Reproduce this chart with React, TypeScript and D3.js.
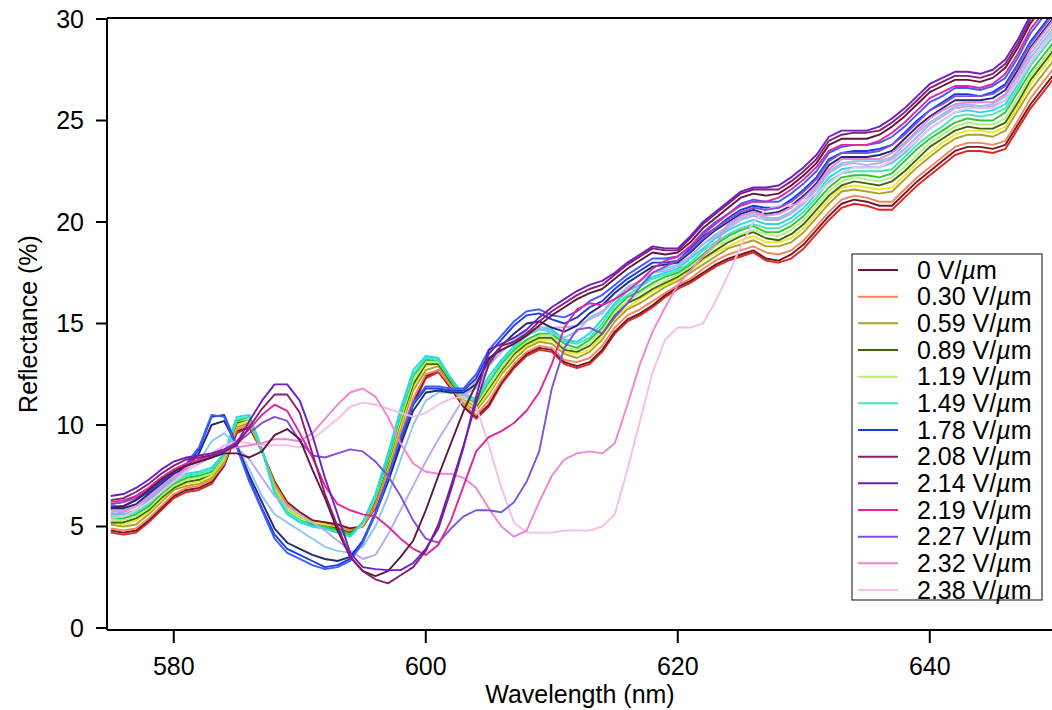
import React from "react";
import * as d3 from "d3";

// 1 nm sampling grid of the spectra
const wavelengths = d3.range(575, 651);

// reflectance (%) per field step (575 … 650 nm)
const red = [
  4.7, 4.6, 4.7, 5.2, 5.8, 6.4, 6.7, 6.8, 7.1,
  8.0, 9.6, 9.9, 8.7, 7.2, 6.2, 5.7, 5.3, 5.2, 5.1, 4.9, 5.0, 5.9, 7.3, 9.2, 11.0, 12.3, 12.6, 11.8, 10.9, 10.3,
  10.9, 12.0, 12.8, 13.4, 13.7, 13.6, 13.0, 12.8, 13.0, 13.6, 14.5, 15.1, 15.4, 15.8, 16.3, 16.7, 17.0, 17.4, 17.8, 18.1, 18.3, 18.5, 18.1, 18.0, 18.2, 18.7, 19.4, 20.1, 20.7, 20.9, 20.8, 20.6, 20.6, 21.2, 21.8, 22.3, 22.8, 23.3, 23.5, 23.5, 23.4, 23.6, 24.6, 25.6, 26.4, 27.2,
];
const v0 = [
  4.8, 4.7, 4.8, 5.3, 5.9, 6.5, 6.8, 6.9, 7.2,
  8.0, 9.7, 9.9, 8.7, 7.2, 6.2, 5.7, 5.3, 5.2, 5.1, 4.9, 5.0, 6.0, 7.4, 9.3, 11.1, 12.4, 12.7, 11.8, 10.9, 10.4,
  11.0, 12.1, 12.9, 13.5, 13.8, 13.7, 13.1, 12.9, 13.1, 13.7, 14.6, 15.2, 15.5, 15.9, 16.4, 16.8, 17.1, 17.5, 17.9, 18.2, 18.4, 18.6, 18.2, 18.1, 18.4, 18.9, 19.6, 20.3, 20.9, 21.1, 21.0, 20.8, 20.8, 21.4, 22.0, 22.5, 23.0, 23.5, 23.7, 23.7, 23.6, 23.8, 24.8, 25.8, 26.6, 27.4,
];
const v030 = [
  4.9, 4.8, 4.9, 5.4, 6.0, 6.6, 6.9, 7.0, 7.3,
  8.1, 9.8, 10.0, 8.7, 7.1, 6.1, 5.6, 5.2, 5.1, 5.0, 4.8, 5.0, 6.0, 7.6, 9.5, 11.3, 12.5, 12.7, 11.9, 11.0, 10.5,
  11.2, 12.2, 13.0, 13.6, 13.9, 13.8, 13.2, 13.1, 13.3, 13.9, 14.8, 15.4, 15.7, 16.1, 16.5, 16.9, 17.2, 17.7, 18.1, 18.4, 18.6, 18.8, 18.5, 18.4, 18.6, 19.1, 19.8, 20.5, 21.1, 21.3, 21.2, 21.0, 21.0, 21.6, 22.2, 22.7, 23.2, 23.7, 23.9, 23.9, 23.8, 24.0, 25.0, 26.1, 26.9, 27.7,
];
const v059 = [
  5.1, 5.0, 5.1, 5.6, 6.2, 6.8, 7.0, 7.1, 7.4,
  8.2, 9.9, 10.1, 8.7, 7.0, 6.0, 5.5, 5.2, 5.1, 4.9, 4.7, 5.1, 6.2, 7.8, 9.8, 11.7, 12.7, 12.9, 12.0, 11.1, 10.7,
  11.5, 12.5, 13.2, 13.8, 14.1, 14.0, 13.5, 13.3, 13.6, 14.2, 15.1, 15.7, 16.0, 16.4, 16.8, 17.1, 17.5, 17.9, 18.3, 18.7, 18.9, 19.1, 18.8, 18.8, 19.0, 19.5, 20.2, 20.9, 21.5, 21.6, 21.5, 21.4, 21.5, 22.1, 22.7, 23.2, 23.7, 24.1, 24.3, 24.3, 24.2, 24.5, 25.5, 26.5, 27.3, 28.1,
];
const yellow = [
  5.2, 5.1, 5.3, 5.7, 6.3, 6.9, 7.1, 7.2, 7.5,
  8.3, 10.0, 10.2, 8.8, 6.9, 5.9, 5.5, 5.2, 5.1, 4.9, 4.7, 5.1, 6.3, 8.0, 10.0, 11.9, 12.9, 13.0, 12.1, 11.2, 10.8,
  11.6, 12.6, 13.4, 13.9, 14.2, 14.2, 13.6, 13.5, 13.7, 14.4, 15.3, 15.8, 16.2, 16.6, 16.9, 17.2, 17.6, 18.1, 18.5, 18.8, 19.1, 19.3, 19.0, 19.0, 19.2, 19.7, 20.4, 21.1, 21.7, 21.8, 21.7, 21.6, 21.7, 22.3, 22.9, 23.4, 23.9, 24.3, 24.5, 24.5, 24.4, 24.7, 25.7, 26.8, 27.6, 28.4,
];
const v089 = [
  5.2, 5.2, 5.4, 5.8, 6.4, 6.9, 7.2, 7.3, 7.6,
  8.4, 10.1, 10.3, 8.8, 6.8, 5.8, 5.4, 5.1, 5.0, 4.9, 4.7, 5.1, 6.3, 8.1, 10.2, 12.0, 13.0, 13.0, 12.1, 11.3, 10.9,
  11.8, 12.7, 13.5, 14.0, 14.3, 14.3, 13.7, 13.6, 13.9, 14.5, 15.4, 16.0, 16.3, 16.7, 17.0, 17.3, 17.7, 18.2, 18.6, 19.0, 19.3, 19.5, 19.2, 19.1, 19.4, 19.9, 20.6, 21.3, 21.8, 22.0, 21.9, 21.8, 22.0, 22.5, 23.1, 23.7, 24.1, 24.5, 24.7, 24.6, 24.6, 24.9, 25.9, 27.0, 27.8, 28.6,
];
const v119 = [
  5.3, 5.3, 5.5, 5.9, 6.5, 7.0, 7.3, 7.4, 7.6,
  8.4, 10.2, 10.3, 8.8, 6.8, 5.8, 5.4, 5.1, 5.0, 4.8, 4.6, 5.1, 6.4, 8.2, 10.3, 12.2, 13.1, 13.1, 12.2, 11.3, 11.0,
  11.9, 12.8, 13.6, 14.1, 14.4, 14.4, 13.8, 13.7, 14.0, 14.7, 15.6, 16.1, 16.5, 16.9, 17.1, 17.4, 17.8, 18.3, 18.8, 19.1, 19.4, 19.6, 19.4, 19.3, 19.6, 20.1, 20.8, 21.5, 22.0, 22.2, 22.1, 22.0, 22.2, 22.7, 23.3, 23.9, 24.3, 24.7, 24.9, 24.8, 24.8, 25.1, 26.1, 27.2, 28.0, 28.8,
];
const green = [
  5.4, 5.4, 5.6, 6.0, 6.6, 7.1, 7.4, 7.5, 7.7,
  8.5, 10.2, 10.4, 8.8, 6.7, 5.7, 5.3, 5.1, 5.0, 4.8, 4.6, 5.2, 6.5, 8.3, 10.5, 12.4, 13.2, 13.2, 12.2, 11.4, 11.1,
  12.1, 13.0, 13.7, 14.2, 14.5, 14.5, 14.0, 13.8, 14.2, 14.8, 15.7, 16.3, 16.6, 17.0, 17.3, 17.5, 17.9, 18.4, 18.9, 19.3, 19.6, 19.8, 19.5, 19.5, 19.8, 20.3, 21.0, 21.7, 22.2, 22.3, 22.3, 22.2, 22.4, 23.0, 23.6, 24.1, 24.5, 24.9, 25.1, 25.0, 25.0, 25.4, 26.4, 27.4, 28.2, 29.0,
];
const v149 = [
  5.5, 5.5, 5.7, 6.1, 6.7, 7.2, 7.5, 7.6, 7.8,
  8.5, 10.3, 10.4, 8.8, 6.7, 5.7, 5.3, 5.0, 4.9, 4.7, 4.5, 5.2, 6.5, 8.5, 10.6, 12.5, 13.3, 13.2, 12.3, 11.4, 11.2,
  12.2, 13.1, 13.8, 14.4, 14.7, 14.6, 14.1, 14.0, 14.3, 15.0, 15.9, 16.4, 16.8, 17.2, 17.4, 17.6, 18.0, 18.6, 19.0, 19.4, 19.7, 19.9, 19.7, 19.7, 20.0, 20.5, 21.2, 22.0, 22.4, 22.5, 22.5, 22.5, 22.6, 23.2, 23.8, 24.3, 24.7, 25.2, 25.3, 25.2, 25.3, 25.6, 26.6, 27.7, 28.5, 29.3,
];
const cyan = [
  5.6, 5.6, 5.8, 6.3, 6.8, 7.3, 7.6, 7.7, 7.9,
  8.6, 10.4, 10.5, 8.8, 6.6, 5.6, 5.2, 5.0, 4.9, 4.7, 4.5, 5.2, 6.6, 8.6, 10.8, 12.7, 13.4, 13.3, 12.3, 11.5, 11.3,
  12.4, 13.2, 13.9, 14.5, 14.8, 14.7, 14.2, 14.1, 14.5, 15.2, 16.0, 16.6, 16.9, 17.3, 17.5, 17.7, 18.2, 18.7, 19.2, 19.6, 19.9, 20.1, 19.9, 19.9, 20.2, 20.7, 21.4, 22.2, 22.6, 22.7, 22.7, 22.7, 22.9, 23.4, 24.0, 24.6, 25.0, 25.4, 25.5, 25.4, 25.5, 25.8, 26.8, 27.9, 28.7, 29.5,
];
const lightBlue = [
  5.7, 5.8, 6.0, 6.4, 7.0, 7.4, 7.7, 8.2, 9.2,
  9.6, 9.0, 7.8, 6.5, 5.6, 5.2, 4.8, 4.4, 4.0, 3.8, 3.7, 4.0, 5.0, 6.5, 8.3, 10.0, 11.2, 11.6, 11.6, 11.5, 11.8,
  12.9, 13.6, 14.2, 14.6, 14.8, 14.5, 14.3, 14.6, 15.3, 15.6, 16.2, 16.8, 17.1, 17.5, 17.7, 17.9, 18.3, 18.9, 19.4, 19.8, 20.2, 20.4, 20.2, 20.2, 20.5, 21.0, 21.7, 22.5, 22.9, 23.0, 23.0, 23.0, 23.2, 23.8, 24.4, 24.9, 25.3, 25.7, 25.8, 25.7, 25.8, 26.2, 27.2, 28.3, 29.1, 29.9,
];
const lavender = [
  5.8, 5.8, 6.0, 6.5, 7.0, 7.5, 7.8, 8.1, 8.4,
  9.0, 8.9, 8.3, 7.4, 6.5, 6.0, 5.6, 5.2, 4.8, 4.3, 3.8, 3.4, 3.6, 4.6, 5.8, 7.0, 8.2, 9.3, 10.3, 11.3, 12.2,
  13.0, 13.6, 14.1, 14.5, 14.8, 14.8, 14.8, 14.9, 15.2, 15.5, 16.2, 16.7, 17.1, 17.5, 17.6, 17.8, 18.3, 18.9, 19.3, 19.7, 20.1, 20.3, 20.1, 20.1, 20.4, 20.9, 21.6, 22.4, 22.8, 22.9, 22.8, 22.9, 23.1, 23.6, 24.2, 24.8, 25.2, 25.6, 25.7, 25.6, 25.7, 26.0, 27.0, 28.1, 28.9, 29.7,
];
const navy = [
  5.9, 5.9, 6.1, 6.6, 7.1, 7.6, 7.9, 8.6, 10.0,
  10.2, 9.0, 7.5, 6.2, 4.9, 4.2, 3.9, 3.6, 3.4, 3.3, 3.5, 4.3, 5.6, 7.2, 9.0, 10.7, 11.6, 11.7, 11.6, 11.6, 12.0,
  13.2, 13.9, 14.5, 15.0, 15.1, 14.8, 14.6, 14.9, 15.5, 15.9, 16.5, 17.0, 17.4, 17.8, 17.9, 18.0, 18.5, 19.1, 19.6, 20.0, 20.4, 20.6, 20.4, 20.5, 20.8, 21.3, 21.9, 22.8, 23.2, 23.2, 23.2, 23.3, 23.5, 24.1, 24.7, 25.2, 25.6, 26.0, 26.0, 26.0, 26.1, 26.5, 27.5, 28.6, 29.4, 30.2,
];
const v178 = [
  6.0, 6.0, 6.3, 6.7, 7.2, 7.7, 8.0, 8.8, 10.4,
  10.5, 9.0, 7.3, 5.9, 4.6, 3.9, 3.6, 3.3, 3.0, 3.1, 3.4, 4.3, 5.7, 7.4, 9.3, 11.0, 11.8, 11.8, 11.7, 11.7, 12.3,
  13.5, 14.2, 14.9, 15.4, 15.5, 15.2, 15.0, 15.3, 15.8, 16.1, 16.7, 17.2, 17.6, 18.0, 18.0, 18.1, 18.7, 19.3, 19.7, 20.2, 20.6, 20.8, 20.7, 20.7, 21.1, 21.6, 22.2, 23.1, 23.4, 23.5, 23.5, 23.6, 23.8, 24.4, 25.0, 25.5, 25.9, 26.3, 26.3, 26.2, 26.4, 26.8, 27.8, 28.9, 29.7, 30.5,
];
const royal = [
  6.1, 6.2, 6.5, 6.9, 7.4, 7.8, 8.1, 8.9, 10.5,
  10.4, 8.9, 7.2, 5.8, 4.4, 3.7, 3.4, 3.1, 2.9, 3.0, 3.3, 4.2, 5.6, 7.4, 9.4, 11.1, 11.9, 11.9, 11.8, 11.8, 12.5,
  13.7, 14.4, 15.1, 15.6, 15.7, 15.4, 15.3, 15.6, 16.1, 16.4, 16.9, 17.4, 17.8, 18.2, 18.2, 18.3, 18.8, 19.5, 20.0, 20.4, 20.9, 21.1, 21.0, 21.0, 21.4, 21.9, 22.5, 23.4, 23.7, 23.8, 23.8, 23.9, 24.2, 24.7, 25.3, 25.9, 26.2, 26.6, 26.6, 26.5, 26.7, 27.1, 28.1, 29.3, 30.1, 30.9,
];
const darkMaroon = [
  5.9, 6.0, 6.3, 6.8, 7.3, 7.7, 8.0, 8.2, 8.4,
  8.6, 8.6, 8.4, 8.7, 9.5, 9.8, 9.3, 7.8, 6.4, 4.8, 3.5, 2.8, 2.55, 2.8, 3.5, 4.3, 5.8, 7.5, 9.1, 10.7, 12.0,
  13.3, 13.7, 14.0, 14.4, 14.9, 15.4, 15.8, 16.2, 16.5, 16.7, 17.2, 17.7, 18.1, 18.5, 18.4, 18.5, 19.0, 19.7, 20.2, 20.7, 21.2, 21.4, 21.3, 21.4, 21.8, 22.3, 22.9, 23.8, 24.1, 24.1, 24.1, 24.3, 24.7, 25.2, 25.8, 26.4, 26.7, 27.0, 27.0, 26.9, 27.1, 27.6, 28.6, 29.8, 30.6, 31.4,
];
const v208 = [
  6.3, 6.4, 6.7, 7.1, 7.6, 8.0, 8.3, 8.4, 8.5,
  8.7, 9.0, 9.9, 10.8, 11.5, 11.5, 10.6, 8.6, 6.6, 5.0, 3.5, 2.8, 2.4, 2.2, 2.6, 3.0, 3.8, 5.1, 7.0, 9.0, 11.1,
  13.0, 13.9, 14.1, 14.5, 15.1, 15.6, 16.0, 16.4, 16.7, 16.9, 17.4, 17.9, 18.3, 18.7, 18.6, 18.6, 19.2, 19.9, 20.4, 20.9, 21.4, 21.6, 21.6, 21.6, 22.0, 22.5, 23.1, 24.0, 24.3, 24.4, 24.4, 24.5, 24.9, 25.4, 26.0, 26.6, 26.9, 27.2, 27.2, 27.1, 27.3, 27.8, 28.8, 30.0, 30.8, 31.6,
];
const v214 = [
  6.5, 6.6, 6.9, 7.3, 7.8, 8.2, 8.4, 8.5, 8.6,
  8.8, 9.1, 10.2, 11.2, 12.0, 12.0, 11.2, 9.5, 7.4, 5.6, 3.7, 3.0, 2.9, 2.85, 2.85, 3.2, 3.9, 4.9, 6.8, 8.9, 11.4,
  13.7, 14.0, 14.3, 14.7, 15.3, 15.8, 16.2, 16.6, 16.9, 17.1, 17.5, 18.0, 18.4, 18.8, 18.7, 18.7, 19.3, 20.0, 20.5, 21.0, 21.5, 21.7, 21.7, 21.8, 22.2, 22.7, 23.3, 24.2, 24.5, 24.5, 24.5, 24.7, 25.1, 25.6, 26.2, 26.8, 27.1, 27.4, 27.4, 27.3, 27.5, 28.0, 29.0, 30.2, 31.0, 31.8,
];
const v219 = [
  6.2, 6.3, 6.5, 6.9, 7.4, 7.8, 8.1, 8.3, 8.5,
  8.7, 9.2, 9.8, 10.5, 11.0, 10.7, 9.6, 8.4, 7.0, 6.1, 5.8, 5.6, 5.5, 5.0, 4.4, 3.9, 3.6, 4.1, 5.3, 7.0, 8.7,
  9.4, 9.7, 10.1, 10.7, 11.6, 13.0, 14.8, 15.7, 16.0, 15.9, 16.2, 16.6, 17.1, 17.7, 18.1, 18.3, 18.8, 19.4, 19.9, 20.4, 20.8, 21.0, 21.0, 21.2, 21.6, 22.1, 22.7, 23.5, 23.8, 23.8, 23.8, 24.0, 24.4, 24.9, 25.5, 26.1, 26.4, 26.7, 26.7, 26.6, 26.8, 27.3, 28.3, 29.5, 30.3, 31.1,
];
const v227 = [
  6.1, 6.2, 6.4, 6.8, 7.3, 7.7, 8.0, 8.2, 8.4,
  8.7, 9.1, 9.6, 10.1, 10.4, 10.2, 9.2, 8.5, 8.4, 8.6, 8.8, 8.7, 8.2, 7.5, 6.5, 5.3, 4.4, 4.2, 4.9, 5.5, 5.8,
  5.8, 5.7, 6.2, 7.2, 8.7, 11.8, 13.8, 14.7, 14.8, 14.5, 15.3, 16.0, 16.8, 17.5, 17.8, 18.1, 18.6, 19.2, 19.7, 20.1, 20.5, 20.7, 20.6, 20.7, 21.0, 21.5, 22.1, 23.0, 23.4, 23.4, 23.4, 23.5, 23.8, 24.3, 24.9, 25.5, 25.8, 26.2, 26.2, 26.2, 26.3, 26.7, 27.7, 28.8, 29.6, 30.4,
];
const v232 = [
  5.6, 5.7, 6.0, 6.4, 6.9, 7.4, 7.9, 8.3, 8.6,
  8.8, 8.9, 9.0, 9.1, 9.3, 9.3, 9.2, 9.6, 10.3, 11.0, 11.6, 11.8, 11.4, 10.4, 9.1, 8.1, 7.7, 7.6, 7.6, 7.4, 6.9,
  5.9, 5.0, 4.5, 4.8, 6.2, 7.5, 8.3, 8.6, 8.7, 8.6, 9.1, 11.0, 13.0, 14.6, 15.8, 16.9, 17.6, 18.3, 18.9, 19.9, 20.3, 20.5, 20.3, 20.4, 20.7, 21.2, 21.8, 22.6, 23.1, 23.1, 23.1, 23.1, 23.4, 23.9, 24.5, 25.1, 25.5, 25.8, 25.9, 25.9, 25.9, 26.3, 27.3, 28.5, 29.3, 30.1,
];
const v238 = [
  5.4, 5.5, 5.8, 6.2, 6.7, 7.2, 7.7, 8.2, 8.6,
  9.0, 9.2, 9.1, 9.0, 9.0, 9.0, 8.9, 9.3, 9.8, 10.3, 10.9, 11.1, 11.0, 10.8, 10.6, 10.4, 10.6, 11.0, 11.3, 11.4, 10.9,
  9.0, 6.9, 5.2, 4.7, 4.7, 4.7, 4.8, 4.8, 4.8, 5.0, 5.6, 7.8, 10.2, 12.6, 14.2, 14.8, 14.8, 15.0, 16.1, 17.4, 18.8, 20.0, 20.6, 20.8, 20.8, 21.0, 21.4, 21.9, 22.4, 22.7, 22.7, 22.7, 23.0, 23.5, 24.0, 24.6, 25.0, 25.4, 25.6, 25.6, 25.6, 26.0, 26.9, 27.9, 28.7, 29.4,
];

// drawing order: low field band first, high field spectra on top
const series = [
  { values: red, color: "#e8231b" },
  { values: v0, color: "#6e1a2c", label: "0" },
  { values: v030, color: "#f3865a", label: "0.30" },
  { values: v059, color: "#a9a32a", label: "0.59" },
  { values: yellow, color: "#f0e62a" },
  { values: v089, color: "#3d6614", label: "0.89" },
  { values: v119, color: "#b4f27a", label: "1.19" },
  { values: green, color: "#33c43a" },
  { values: v149, color: "#44e6b4", label: "1.49" },
  { values: cyan, color: "#22dbe8" },
  { values: lightBlue, color: "#8cc4f2" },
  { values: lavender, color: "#b9a9ee" },
  { values: navy, color: "#1f2a7a" },
  { values: v178, color: "#1c3be6", label: "1.78" },
  { values: royal, color: "#3e5cff" },
  { values: v238, color: "#f6bde9", label: "2.38" },
  { values: v232, color: "#f183d3", label: "2.32" },
  { values: v227, color: "#7f52dc", label: "2.27" },
  { values: v219, color: "#e2259f", label: "2.19" },
  { values: darkMaroon, color: "#5e1640" },
  { values: v208, color: "#8a1d6e", label: "2.08" },
  { values: v214, color: "#6c1fc2", label: "2.14" },
];

const legendOrder = ["0", "0.30", "0.59", "0.89", "1.19", "1.49", "1.78", "2.08", "2.14", "2.19", "2.27", "2.32", "2.38"];
const xTicks = [580, 600, 620, 640];
const yTicks = [0, 5, 10, 15, 20, 25, 30];

const W = 1052;
const H = 710;
const left = 107;
const top = 18;
const bottom = 630;
const font = "'Liberation Sans', Arial, Helvetica, sans-serif";

export default function App() {
  const x = d3.scaleLinear().domain([574.7, 649.7]).range([left, 1052]);
  const y = d3.scaleLinear().domain([0, 30]).range([628, 19]);

  const line = d3
    .line<number>()
    .x((_, i) => x(wavelengths[i]))
    .y((d) => y(d));

  const legendItems = legendOrder.map((lab) => series.find((s) => s.label === lab)!);

  return (
    <svg
      width={W}
      height={H}
      style={{ position: "absolute", left: 0, top: 0, background: "#fff" }}
      fontFamily={font}
    >
      <defs>
        <clipPath id="plot">
          <rect x={left} y={top} width={W - left} height={bottom - top} />
        </clipPath>
      </defs>

      <g clipPath="url(#plot)" fill="none" strokeWidth={1.9} strokeLinejoin="round">
        {series.map((s, i) => (
          <path key={i} d={line(s.values) || ""} stroke={s.color} />
        ))}
      </g>

      {/* frame */}
      <g stroke="#000" strokeWidth={2} fill="none">
        <line x1={left} y1={top} x2={W} y2={top} />
        <line x1={left} y1={top} x2={left} y2={bottom} />
        <line x1={left} y1={bottom} x2={W} y2={bottom} />
      </g>

      {/* y axis */}
      {yTicks.map((t) => (
        <g key={t}>
          <line x1={96} x2={left} y1={y(t)} y2={y(t)} stroke="#000" strokeWidth={2} />
          <text x={84} y={y(t)} dy="0.35em" textAnchor="end" fontSize={25}>
            {t}
          </text>
        </g>
      ))}
      <text transform={`translate(37,${(top + bottom) / 2}) rotate(-90)`} textAnchor="middle" fontSize={25}>
        Reflectance (%)
      </text>

      {/* x axis */}
      {xTicks.map((t) => (
        <g key={t}>
          <line x1={x(t)} x2={x(t)} y1={bottom} y2={643} stroke="#000" strokeWidth={2} />
          <text x={x(t)} y={675} textAnchor="middle" fontSize={25}>
            {t}
          </text>
        </g>
      ))}
      <text x={580} y={703} textAnchor="middle" fontSize={25}>
        Wavelength (nm)
      </text>

      {/* legend */}
      <rect x={852} y={254} width={190} height={346} fill="#fff" stroke="#333" strokeWidth={1.2} />
      {legendItems.map((s, i) => {
        const ly = 270 + i * 26.67;
        return (
          <g key={s.label}>
            <line x1={858} x2={898} y1={ly} y2={ly} stroke={s.color} strokeWidth={2} />
            <text x={917} y={ly} dy="0.35em" fontSize={25}>
              {s.label} V/<tspan fontStyle="italic">µ</tspan>m
            </text>
          </g>
        );
      })}
    </svg>
  );
}
